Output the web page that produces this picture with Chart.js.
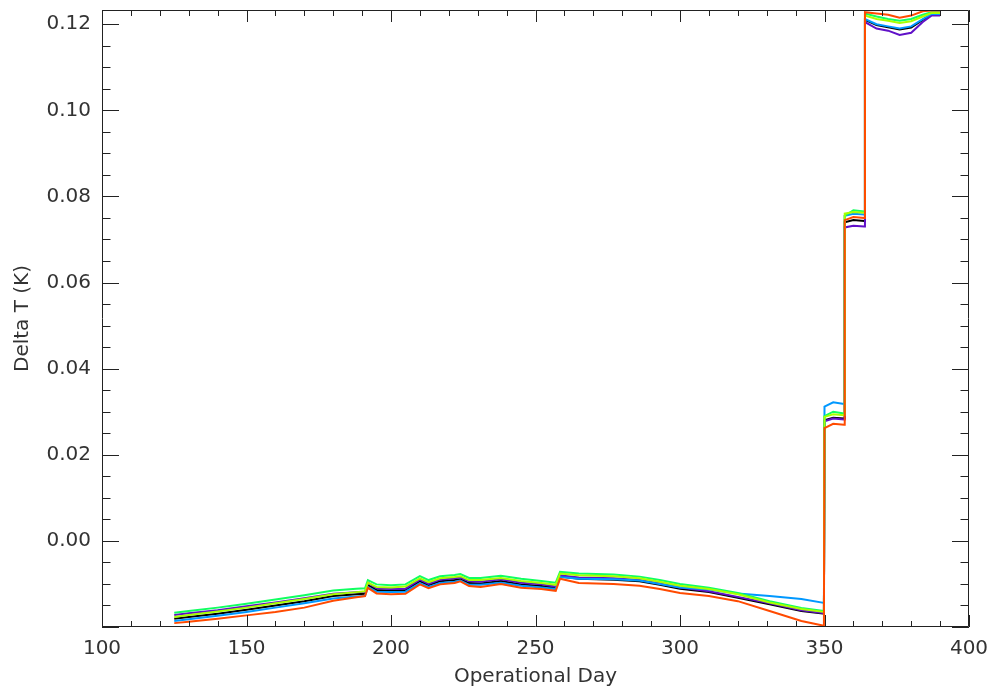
<!DOCTYPE html>
<html lang="en">
<head>
<meta charset="UTF-8" />
<title>delta t</title>
<script src="https://cdn.jsdelivr.net/npm/chart.js"></script>
<style>
  html, body { margin: 0; padding: 0; background: #fff; }
  #wrap { width: 992px; height: 693px; }
</style>
</head>
<body>
<div id="wrap"><canvas id="dtChart" width="992" height="693"></canvas></div>
<script>
  // operational day of each sample (steps at 350, 357, 364)
  const days = [125, 130, 140, 150, 160, 170, 180, 188, 191, 192,
                195, 200, 205, 210, 213, 217, 222, 224, 227, 231,
                238, 245, 252, 257, 258.5, 265, 277, 286, 293, 300,
                310, 320, 331, 342, 349.8,
                350, 353, 356.8,
                357, 360, 363.8,
                364, 368, 372, 376, 380, 384, 387, 390];

  const orange = [-0.0191, -0.0188, -0.0181, -0.0173, -0.0165, -0.0155, -0.0139, -0.0131, -0.0128, -0.0109,
                  -0.0122, -0.0124, -0.0123, -0.0101, -0.0110, -0.0101, -0.0098, -0.0094, -0.0105, -0.0107,
                  -0.0100, -0.0109, -0.0112, -0.0116, -0.0088, -0.0098, -0.0100, -0.0104, -0.0112, -0.0121,
                  -0.0128, -0.0140, -0.0163, -0.0186, -0.0197,
                  0.0262, 0.0272, 0.0270,
                  0.0745, 0.0752, 0.0750,
                  0.1228, 0.1225, 0.1222, 0.1215, 0.1220, 0.1230, 0.1232, 0.1232];

  const lime = [-0.0177, -0.0172, -0.0164, -0.0155, -0.0145, -0.0135, -0.0124, -0.0119, -0.0117, -0.0097,
                -0.0107, -0.0108, -0.0106, -0.0087, -0.0096, -0.0087, -0.0084, -0.0082, -0.0091, -0.0091,
                -0.0086, -0.0093, -0.0098, -0.0102, -0.0076, -0.0080, -0.0082, -0.0087, -0.0095, -0.0104,
                -0.0112, -0.0124, -0.0143, -0.0158, -0.0165,
                0.0288, 0.0294, 0.0292,
                0.0760, 0.0764, 0.0762,
                0.1220, 0.1212, 0.1208, 0.1203, 0.1207, 0.1218, 0.1226, 0.1226];

  const green = [-0.0167, -0.0163, -0.0155, -0.0146, -0.0136, -0.0126, -0.0115, -0.0111, -0.0110, -0.0091,
                 -0.0101, -0.0103, -0.0101, -0.0082, -0.0091, -0.0082, -0.0079, -0.0077, -0.0086, -0.0086,
                 -0.0081, -0.0088, -0.0093, -0.0097, -0.0072, -0.0076, -0.0078, -0.0083, -0.0091, -0.0100,
                 -0.0109, -0.0121, -0.0140, -0.0156, -0.0163,
                 0.0290, 0.0300, 0.0296,
                 0.0755, 0.0768, 0.0765,
                 0.1225, 0.1218, 0.1212, 0.1208, 0.1212, 0.1222, 0.1228, 0.1228];

  const blue = [-0.0186, -0.0182, -0.0174, -0.0165, -0.0155, -0.0145, -0.0134, -0.0129, -0.0128, -0.0107,
                -0.0118, -0.0119, -0.0118, -0.0098, -0.0107, -0.0098, -0.0095, -0.0092, -0.0102, -0.0102,
                -0.0097, -0.0104, -0.0108, -0.0112, -0.0084, -0.0088, -0.0089, -0.0092, -0.0100, -0.0108,
                -0.0113, -0.0122, -0.0128, -0.0135, -0.0144,
                0.0312, 0.0322, 0.0318,
                0.0755, 0.0760, 0.0758,
                0.1212, 0.1200, 0.1195, 0.1190, 0.1195, 0.1212, 0.1224, 0.1224];

  const purple = [-0.0172, -0.0168, -0.0161, -0.0152, -0.0143, -0.0133, -0.0123, -0.0119, -0.0118, -0.0097,
                  -0.0110, -0.0112, -0.0111, -0.0090, -0.0100, -0.0090, -0.0087, -0.0085, -0.0094, -0.0095,
                  -0.0089, -0.0097, -0.0101, -0.0106, -0.0080, -0.0085, -0.0087, -0.0091, -0.0099, -0.0108,
                  -0.0117, -0.0130, -0.0145, -0.0161, -0.0168,
                  0.0278, 0.0284, 0.0282,
                  0.0728, 0.0732, 0.0730,
                  0.1205, 0.1190, 0.1185, 0.1175, 0.1180, 0.1205, 0.1220, 0.1220];

  const black = [-0.0181, -0.0177, -0.0169, -0.0160, -0.0150, -0.0140, -0.0128, -0.0124, -0.0123, -0.0103,
                 -0.0114, -0.0116, -0.0114, -0.0094, -0.0103, -0.0094, -0.0091, -0.0089, -0.0098, -0.0099,
                 -0.0093, -0.0101, -0.0105, -0.0109, -0.0083, -0.0088, -0.0090, -0.0094, -0.0102, -0.0111,
                 -0.0119, -0.0132, -0.0147, -0.0163, -0.0169,
                 0.0280, 0.0286, 0.0284,
                 0.0740, 0.0745, 0.0743,
                 0.1210, 0.1198, 0.1193, 0.1188, 0.1192, 0.1210, 0.1222, 0.1222];

  const xTicks = [100, 150, 200, 250, 300, 350, 400];
  const yTicks = [0, 0.02, 0.04, 0.06, 0.08, 0.10, 0.12];

  const textColor = '#333';
  const font = { family: 'DejaVu Sans', size: 20 };

  function pts(vals) {
    return days.map((d, i) => ({ x: d, y: vals[i] }));
  }

  function line(vals, color) {
    return {
      data: pts(vals),
      borderColor: color,
      borderWidth: 2,
      pointRadius: 0,
      tension: 0,
      fill: false
    };
  }

  // keep chart area fixed: no extra room for overhanging labels
  function noPad(s) {
    s.paddingLeft = 0; s.paddingRight = 0; s.paddingTop = 0; s.paddingBottom = 0;
  }

  // IDL style box with inward ticks on all four sides
  const boxPlugin = {
    id: 'box',
    afterDraw(chart) {
      const ctx = chart.ctx;
      const a = chart.chartArea;
      const xs = chart.scales.x, ys = chart.scales.y;
      ctx.save();
      ctx.strokeStyle = '#222';
      ctx.lineWidth = 1;
      ctx.beginPath();
      ctx.rect(a.left + 0.5, a.top + 0.5, a.right - a.left - 1, a.bottom - a.top - 1);
      for (let d = 100; d <= 400; d += 10) {
        const px = Math.round(xs.getPixelForValue(d)) + 0.5;
        const len = d % 50 === 0 ? 12 : 6;
        ctx.moveTo(px, a.bottom); ctx.lineTo(px, a.bottom - len);
        ctx.moveTo(px, a.top); ctx.lineTo(px, a.top + len);
      }
      for (let k = -4; k <= 24; k++) {
        const v = k * 0.005;
        const py = Math.round(ys.getPixelForValue(v)) + 0.5;
        const len = k % 4 === 0 ? 17 : 8.5;
        ctx.moveTo(a.left, py); ctx.lineTo(a.left + len, py);
        ctx.moveTo(a.right, py); ctx.lineTo(a.right - len, py);
      }
      ctx.stroke();
      ctx.restore();
    }
  };

  new Chart(document.getElementById('dtChart'), {
    type: 'line',
    data: {
      datasets: [
        line(orange, '#ff4a00'),
        line(lime, '#a8ff00'),
        line(green, '#10ff60'),
        line(blue, '#0098ff'),
        line(purple, '#6010c8'),
        line(black, '#000000')
      ]
    },
    options: {
      responsive: false,
      animation: false,
      layout: { padding: { top: 10, right: 23, left: 0, bottom: 0 } },
      plugins: { legend: { display: false }, tooltip: { enabled: false } },
      scales: {
        x: {
          type: 'linear',
          min: 100, max: 400,
          grid: { display: false, drawTicks: false },
          border: { display: false },
          afterBuildTicks: s => { s.ticks = xTicks.map(v => ({ value: v })); },
          afterFit: s => { s.height = 66; noPad(s); },
          ticks: { font: font, color: textColor, padding: 10, maxRotation: 0,
                   callback: v => String(v) },
          title: { display: true, text: 'Operational Day', font: font, color: textColor,
                   padding: { top: 0, bottom: 4 } }
        },
        y: {
          min: -0.02, max: 0.1233,
          grid: { display: false, drawTicks: false },
          border: { display: false },
          afterBuildTicks: s => { s.ticks = yTicks.map(v => ({ value: v })); },
          afterFit: s => { s.width = 102; noPad(s); },
          ticks: { font: font, color: textColor, padding: 11,
                   callback: v => Number(v).toFixed(2) },
          title: { display: true, text: 'Delta T (K)', font: font, color: textColor,
                   padding: { top: 11, bottom: 0 } }
        }
      }
    },
    plugins: [boxPlugin]
  });
</script>
</body>
</html>
